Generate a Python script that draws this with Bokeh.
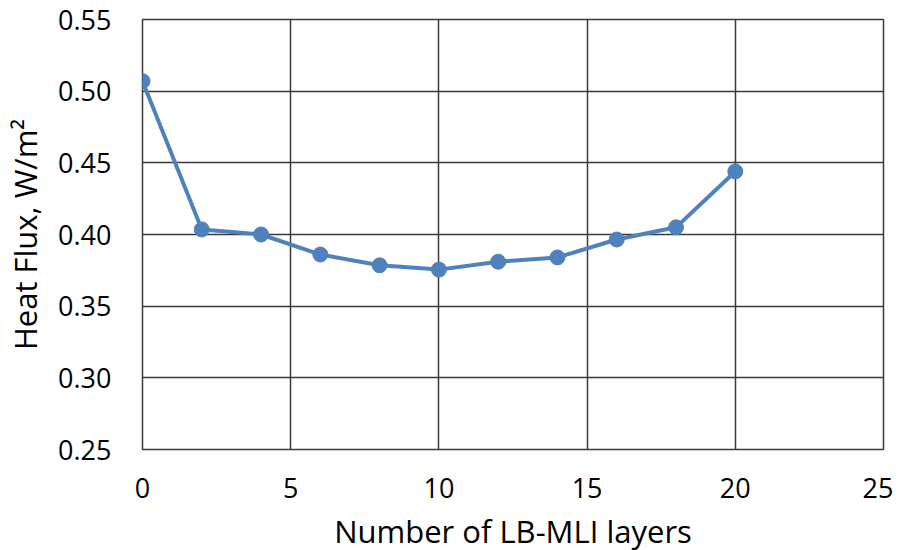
from bokeh.plotting import figure
from bokeh.models import FixedTicker, Range1d, PrintfTickFormatter
from bokeh.embed import file_html
from bokeh.resources import INLINE

layers = [0, 2, 4, 6, 8, 10, 12, 14, 16, 18, 20]
heat_flux = [0.507, 0.4035, 0.400, 0.386, 0.3785, 0.3755, 0.381, 0.384, 0.3965, 0.405, 0.444]
x_ticks = [0, 5, 10, 15, 20, 25]
y_ticks = [0.25, 0.30, 0.35, 0.40, 0.45, 0.50, 0.55]

FONT = "Open Sans"
GRID = "#3a3a3a"
BLUE = "#4F81BD"

p = figure(frame_width=741, frame_height=430, output_backend="svg", toolbar_location=None,
           x_range=Range1d(0, 25), y_range=Range1d(0.25, 0.55),
           min_border_left=142, min_border_top=19, min_border_right=10, min_border_bottom=101)

p.line(layers, heat_flux, line_color=BLUE, line_width=4)
p.scatter(layers, heat_flux, size=15, fill_color=BLUE, line_color=BLUE)

for ax in (p.xaxis[0], p.yaxis[0]):
    ax.axis_line_color = None
    ax.major_tick_line_color = None
    ax.minor_tick_line_color = None
    ax.major_tick_out = 0
    ax.major_tick_in = 0
    ax.minor_tick_out = 0
    ax.major_label_text_font = FONT
    ax.major_label_text_font_size = "27px"
    ax.major_label_text_color = "#000000"
    ax.axis_label_text_font = FONT
    ax.axis_label_text_font_size = "31px"
    ax.axis_label_text_font_style = "normal"
    ax.axis_label_text_color = "#000000"

p.xaxis.ticker = FixedTicker(ticks=x_ticks)
p.yaxis.ticker = FixedTicker(ticks=y_ticks)
p.yaxis.formatter = PrintfTickFormatter(format="%.2f")
p.xaxis.axis_label = "Number of LB-MLI layers"
p.yaxis.axis_label = "Heat Flux, W/m²"
p.xaxis.major_label_standoff = 28
p.yaxis.major_label_standoff = 31
p.xaxis.axis_label_standoff = 9
p.yaxis.axis_label_standoff = 9

p.xgrid.grid_line_color = GRID
p.ygrid.grid_line_color = GRID
p.xgrid.grid_line_width = 1.5
p.ygrid.grid_line_width = 1.5
p.outline_line_color = GRID
p.outline_line_width = 1.5

open("out.html", "w").write(file_html(p, INLINE))
